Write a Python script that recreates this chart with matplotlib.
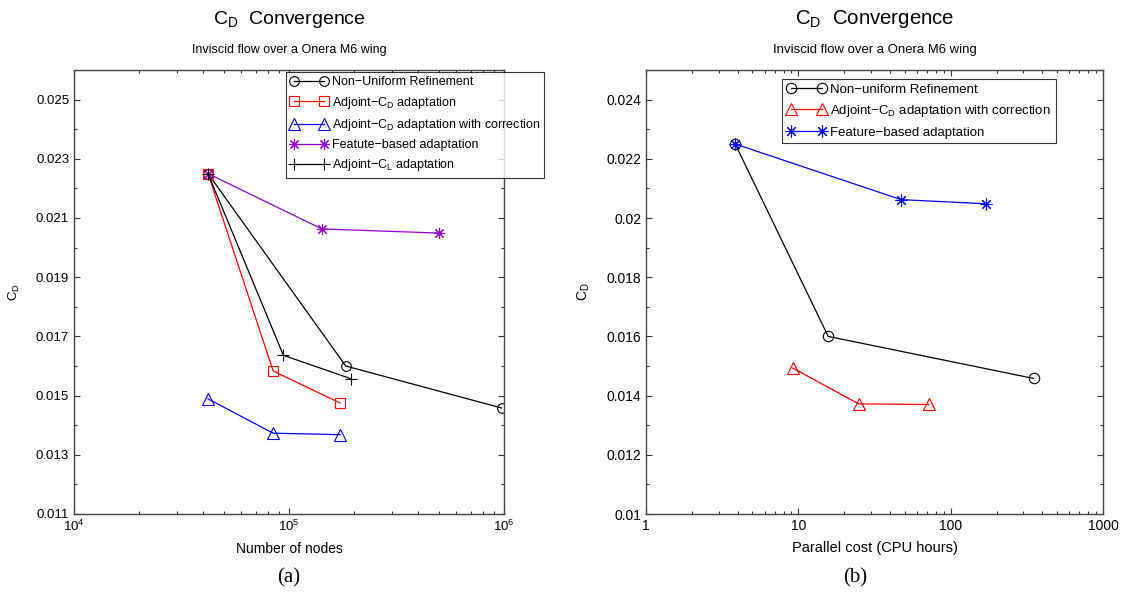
import numpy as np
import matplotlib
matplotlib.use('Agg')
import matplotlib.pyplot as plt
from matplotlib.ticker import FixedLocator, NullFormatter, MultipleLocator, FuncFormatter

plt.rcParams['font.family'] = ['Liberation Sans', 'DejaVu Sans']
plt.rcParams['mathtext.fontset'] = 'custom'
plt.rcParams['mathtext.rm'] = 'Liberation Sans'
plt.rcParams['mathtext.it'] = 'Liberation Sans'

# (a) C_D against number of nodes
nodes_uniform = [42000, 183600, 975000]
cd_uniform = [0.0225, 0.0160, 0.01458]
nodes_adj_cd = [42000, 84400, 172700]
cd_adj_cd = [0.0225, 0.01583, 0.01475]
nodes_adj_cd_corr = [42000, 84400, 172700]
cd_adj_cd_corr = [0.01489, 0.01373, 0.01368]
nodes_feature = [42000, 142300, 501000]
cd_feature = [0.0225, 0.02063, 0.02049]
nodes_adj_cl = [42000, 94200, 194300]
cd_adj_cl = [0.0225, 0.01636, 0.01557]

# (b) C_D against parallel cost
cost_uniform = [3.85, 15.7, 350]
cd_b_uniform = [0.0225, 0.0160, 0.01458]
cost_adj_corr = [9.2, 24.9, 72]
cd_b_adj_corr = [0.01493, 0.01372, 0.0137]
cost_feature = [3.85, 47.3, 171]
cd_b_feature = [0.0225, 0.02062, 0.02048]

purple = '#9400d3'
star = (8, 2, 0)

fig = plt.figure(figsize=(11.25, 5.94), dpi=100)
axa = fig.add_axes([74/1125, 80/594, 430/1125, 444/594])
axb = fig.add_axes([646/1125, 80/594, 457/1125, 444/594])

lw = 0.9
axa.plot(nodes_uniform, cd_uniform, 'k-', marker='o', mfc='none', ms=7, lw=lw, mew=0.8,
         label='Non\u2212Uniform Refinement')
axa.plot(nodes_adj_cd, cd_adj_cd, '-', color='red', marker='s', mfc='none', ms=6.5, lw=lw, mew=0.8,
         label='Adjoint\u2212C$_\\mathregular{D}$ adaptation')
axa.plot(nodes_adj_cd_corr, cd_adj_cd_corr, '-', color='blue', marker='^', mfc='none', ms=8, lw=lw, mew=0.8,
         label='Adjoint\u2212C$_\\mathregular{D}$ adaptation with correction')
axa.plot(nodes_feature, cd_feature, '-', color=purple, marker=star, ms=8, lw=lw, mew=0.8,
         label='Featute\u2212based adaptation')
axa.plot(nodes_adj_cl, cd_adj_cl, 'k-', marker='+', ms=9, lw=lw, mew=0.8,
         label='Adjoint\u2212C$_\\mathregular{L}$ adaptation')

axb.plot(cost_uniform, cd_b_uniform, 'k-', marker='o', mfc='none', ms=7.5, lw=lw, mew=0.8,
         label='Non\u2212uniform Refinement')
axb.plot(cost_adj_corr, cd_b_adj_corr, '-', color='red', marker='^', mfc='none', ms=8.5, lw=lw, mew=0.8,
         label='Adjoint\u2212C$_\\mathregular{D}$ adaptation with correction')
axb.plot(cost_feature, cd_b_feature, '-', color='blue', marker=star, ms=8.5, lw=lw, mew=0.8,
         label='Feature\u2212based adaptation')

for ax, fs in ((axa, 9.5), (axb, 10)):
    ax.set_xscale('log')
    ax.tick_params(which='both', direction='in', top=True, right=True, labelsize=fs,
                   color='#333333', width=0.8)
    ax.tick_params(which='major', length=4)
    ax.tick_params(which='minor', length=2.5)
    for s in ax.spines.values():
        s.set_color('#444444')
        s.set_linewidth(1.0)
    ax.set_ylabel('C$_\\mathregular{D}$', fontsize=fs, labelpad=10)

axa.set_xlim(1e4, 1e6)
axa.set_ylim(0.011, 0.026)
axa.yaxis.set_major_locator(FixedLocator(np.arange(0.011, 0.0255, 0.002)))
axa.yaxis.set_minor_locator(FixedLocator(np.arange(0.012, 0.0265, 0.002)))
axa.yaxis.set_major_formatter(FuncFormatter(lambda v, p: '%.3f' % v))
axa.xaxis.set_major_formatter(FuncFormatter(lambda v, p: '$10^{%d}$' % round(np.log10(v))))
axa.set_xlabel('Number of nodes', fontsize=10, labelpad=6)

axb.set_xlim(1, 1000)
axb.set_ylim(0.010, 0.025)
axb.yaxis.set_major_locator(MultipleLocator(0.002))
axb.yaxis.set_minor_locator(FixedLocator(np.arange(0.011, 0.0255, 0.002)))
axb.yaxis.set_major_formatter(FuncFormatter(lambda v, p: ('%.3f' % v).rstrip('0')))
axb.xaxis.set_major_formatter(FuncFormatter(lambda v, p: '%d' % round(v)))
axb.set_xlabel('Parallel cost (CPU hours)', fontsize=10.5, labelpad=6)

for ax, k in ((axa, 1.0), (axb, 1.05)):
    ax.xaxis.set_minor_formatter(NullFormatter())
    ax.text(0.5, 1 + 51/444, 'C$_\\mathregular{D}$  Convergence', transform=ax.transAxes,
            ha='center', va='center', fontsize=14*k)
    ax.text(0.5, 1 + 20/444, 'Inviscid flow over a Onera M6 wing', transform=ax.transAxes,
            ha='center', va='center', fontsize=9*k)

leg_kw = dict(numpoints=2, frameon=True, fancybox=False, borderaxespad=0,
              handlelength=3.0, handletextpad=0.3, borderpad=0.35, loc='upper left')
la = axa.legend(bbox_to_anchor=(286/1125, 1 - 72/594), bbox_transform=fig.transFigure,
                fontsize=9, labelspacing=0.5, **leg_kw)
lb = axb.legend(bbox_to_anchor=(782/1125, 1 - 79/594), bbox_transform=fig.transFigure,
                fontsize=9.5, labelspacing=0.55, **leg_kw)
for lg in (la, lb):
    lg.get_frame().set_edgecolor('black')
    lg.get_frame().set_linewidth(0.8)

fig.text(289/1125, 1 - 578/594, '(a)', ha='center', va='center', fontsize=15,
         family=['Liberation Serif'])
fig.text(855/1125, 1 - 578/594, '(b)', ha='center', va='center', fontsize=15,
         family=['Liberation Serif'])

fig.savefig('out.png', dpi=100)
